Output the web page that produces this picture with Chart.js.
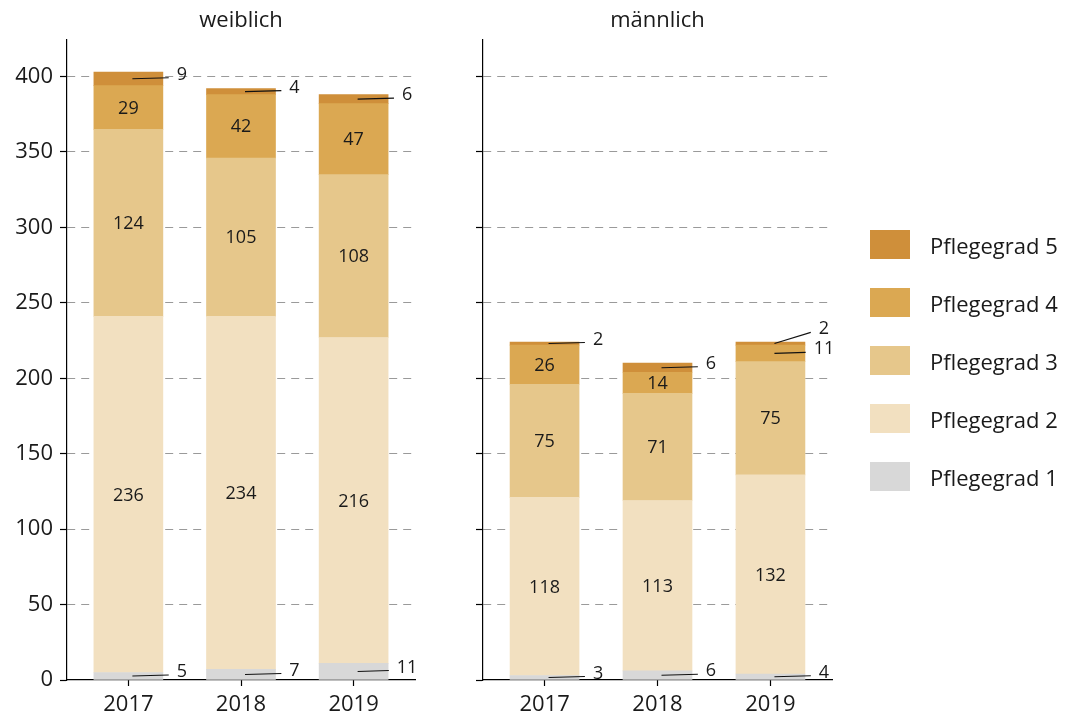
<!DOCTYPE html>
<html>
<head>
<meta charset="utf-8">
<script src="https://cdn.jsdelivr.net/npm/chart.js@4"></script>
<style>
  body { margin: 0; background: #fff; font-family: 'Open Sans', sans-serif; }
  #wrap { position: relative; width: 1068px; height: 713px; }
  #wrap canvas { position: absolute; left: 0; top: 0; }
  #legend { position: absolute; left: 870px; top: 230px; }
  .item { display: flex; align-items: center; height: 29px; margin-bottom: 29px; }
  .box { width: 40px; height: 29px; margin-right: 20px; }
  .item span { font-size: 22px; color: #1a1a1a; }
</style>
</head>
<body>
<div id="wrap">
  <canvas id="left" width="1068" height="713"></canvas>
  <canvas id="right" width="1068" height="713"></canvas>
  <div id="legend"></div>
</div>
<script>
// data
var years = ['2017', '2018', '2019'];
var seriesNames = ['Pflegegrad 1', 'Pflegegrad 2', 'Pflegegrad 3', 'Pflegegrad 4', 'Pflegegrad 5'];

var weiblichPG1 = [5, 7, 11];
var weiblichPG2 = [236, 234, 216];
var weiblichPG3 = [124, 105, 108];
var weiblichPG4 = [29, 42, 47];
var weiblichPG5 = [9, 4, 6];

var maennlichPG1 = [3, 6, 4];
var maennlichPG2 = [118, 113, 132];
var maennlichPG3 = [75, 71, 75];
var maennlichPG4 = [26, 14, 11];
var maennlichPG5 = [2, 6, 2];

var yTicks = [0, 50, 100, 150, 200, 250, 300, 350, 400];

var colors = ['#d8d8d8', '#f2e0c0', '#e6c78b', '#dba852', '#cf8f3a'];
var textColor = '#1a1a1a';
var fontFamily = "'Open Sans', sans-serif";

Chart.defaults.font.family = fontFamily;
Chart.defaults.color = textColor;

// legend (top = Pflegegrad 5)
var legendEl = document.getElementById('legend');
for (var k = seriesNames.length - 1; k >= 0; k--) {
    var row = document.createElement('div');
    row.className = 'item';
    row.innerHTML = '<div class="box" style="background:' + colors[k] + '"></div><span>' + seriesNames[k] + '</span>';
    legendEl.appendChild(row);
}

// labels inside segments, small ones outside with a leader line
var segLabels = {
    id: 'segLabels',
    afterDatasetsDraw: function (chart) {
        var ctx = chart.ctx;
        ctx.save();
        ctx.font = '18px ' + fontFamily;
        ctx.fillStyle = textColor;
        ctx.textAlign = 'center';
        ctx.textBaseline = 'middle';
        for (var i = 0; i < years.length; i++) {
            var outside = [];
            chart.data.datasets.forEach(function (ds, d) {
                var el = chart.getDatasetMeta(d).data[i];
                var v = ds.data[i].y;
                var cy = (el.y + el.base) / 2;
                if (v >= 12) {
                    ctx.fillText(String(v), el.x, cy + 1);
                } else {
                    outside.push({ v: v, cy: cy, x: el.x, right: el.x + el.width / 2 });
                }
            });
            outside.sort(function (a, b) { return b.cy - a.cy; });
            var prev = Infinity;
            outside.forEach(function (o) {
                var ly = o.cy - 4;
                if (ly > prev - 20) ly = prev - 20;
                prev = ly;
                var lx = o.right + 19;
                var w = ctx.measureText(String(o.v)).width;
                ctx.beginPath();
                ctx.strokeStyle = '#111';
                ctx.lineWidth = 1.1;
                ctx.moveTo(o.x + 4, o.cy);
                ctx.lineTo(lx - w / 2 - 8, ly + 3);
                ctx.stroke();
                ctx.fillText(String(o.v), lx, ly);
            });
        }
        ctx.restore();
    }
};

var panelTitle = {
    id: 'panelTitle',
    afterDraw: function (chart, args, opts) {
        var ctx = chart.ctx;
        var a = chart.chartArea;
        ctx.save();
        ctx.font = '22px ' + fontFamily;
        ctx.fillStyle = textColor;
        ctx.textAlign = 'center';
        ctx.textBaseline = 'middle';
        ctx.fillText(opts.text, (a.left + a.right) / 2, 21);
        ctx.restore();
    }
};

function makeDatasets(series) {
    return series.map(function (arr, k) {
        return {
            label: seriesNames[k],
            data: arr.map(function (v, i) { return { x: i + 1, y: v }; }),
            backgroundColor: colors[k],
            borderWidth: 0,
            barThickness: 69
        };
    });
}

function makeChart(id, title, series, axisLeft, axisRight, showY) {
    return new Chart(document.getElementById(id), {
        type: 'bar',
        data: { datasets: makeDatasets(series) },
        plugins: [segLabels, panelTitle],
        options: {
            responsive: false,
            animation: false,
            layout: { padding: { left: 0, right: 1068 - axisRight, top: 40, bottom: 0 } },
            plugins: {
                legend: { display: false },
                tooltip: { enabled: false },
                panelTitle: { text: title }
            },
            scales: {
                x: {
                    type: 'linear',
                    min: 0.455,
                    max: 3.545,
                    offset: false,
                    stacked: true,
                    afterBuildTicks: function (s) {
                        s.ticks = years.map(function (_, i) { return { value: i + 1 }; });
                    },
                    afterFit: function (s) { s.height = 33; },
                    ticks: {
                        callback: function (v) { return years[v - 1]; },
                        font: { size: 22 },
                        color: textColor,
                        padding: 6,
                        maxRotation: 0,
                        autoSkip: false
                    },
                    grid: { drawOnChartArea: false, offset: false, tickLength: 6, tickColor: '#000', tickWidth: 1.2 },
                    border: { color: '#000', width: 1.2 }
                },
                y: {
                    stacked: true,
                    min: 0,
                    max: 424.2,
                    afterBuildTicks: function (s) {
                        s.ticks = yTicks.map(function (v) { return { value: v }; });
                    },
                    afterFit: function (s) { s.width = axisLeft; },
                    ticks: {
                        callback: function (v) { return showY ? String(v) : ''; },
                        font: { size: 22 },
                        color: textColor,
                        padding: 7
                    },
                    grid: {
                        color: function (c) { return c.tick && c.tick.value === 0 ? 'rgba(0,0,0,0)' : '#9a9a9a'; },
                        lineWidth: 1,
                        tickLength: 7,
                        tickColor: '#000',
                        tickWidth: 1.2,
                        tickBorderDash: []
                    },
                    border: { color: '#000', width: 1.2, dash: [8, 6] }
                }
            }
        }
    });
}

makeChart('left', 'weiblich',
    [weiblichPG1, weiblichPG2, weiblichPG3, weiblichPG4, weiblichPG5], 67, 415, true);
makeChart('right', 'männlich',
    [maennlichPG1, maennlichPG2, maennlichPG3, maennlichPG4, maennlichPG5], 483, 832, false);
</script>
</body>
</html>
